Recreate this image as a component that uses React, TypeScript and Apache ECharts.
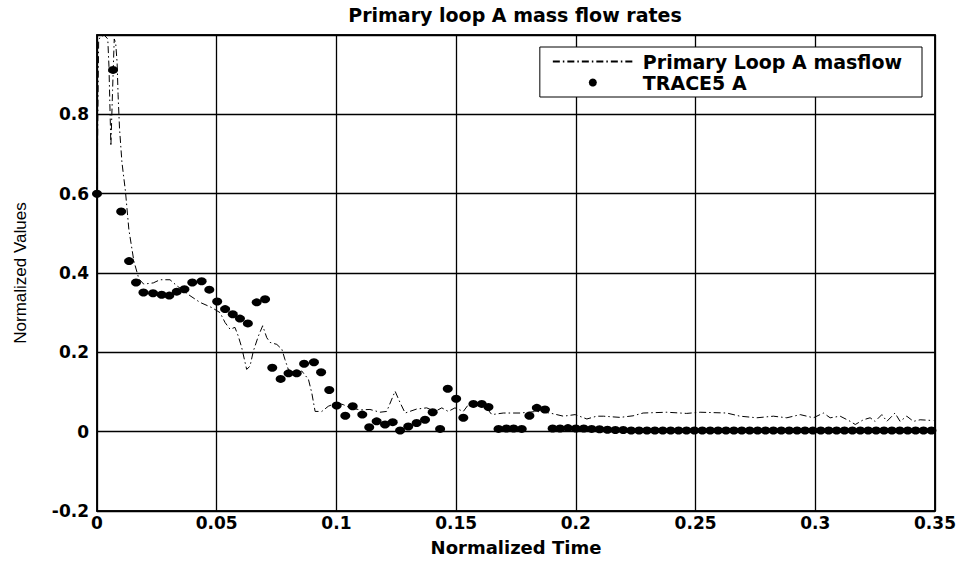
import React, { useEffect, useRef } from "react";
import * as echarts from "echarts";

const titleText = "Primary loop A mass flow rates";
const xName = "Normalized Time";
const yName = "Normalized Values";
const lineName = "Primary Loop A masflow";
const dotName = "TRACE5 A";

const xTicks = [0, 0.05, 0.1, 0.15, 0.2, 0.25, 0.3, 0.35];
const yTicks = [-0.2, 0, 0.2, 0.4, 0.6, 0.8, 1.0];

const lineTimes = [
  0, 0.0007, 0.003, 0.0045, 0.005, 0.0058, 0.0065, 0.0072, 0.0078, 0.0084, 0.0088, 0.0094,
  0.0104, 0.0119, 0.0133, 0.0154, 0.0175, 0.0195, 0.0235, 0.0263, 0.0305, 0.0333, 0.0388,
  0.043, 0.0479, 0.0514, 0.0535, 0.0556, 0.0576, 0.059, 0.0604, 0.0625, 0.0639, 0.0653,
  0.0674, 0.0692, 0.0709, 0.0723, 0.0751, 0.0772, 0.0785, 0.0799, 0.0827, 0.0855, 0.0883,
  0.0897, 0.0911, 0.0939, 0.0966, 0.1001, 0.1029, 0.1057, 0.11, 0.114, 0.1182, 0.121,
  0.1245, 0.1266, 0.1287, 0.1335, 0.1377, 0.1412, 0.144, 0.1467, 0.1495, 0.153, 0.1551,
  0.1572, 0.1621, 0.1649, 0.1697, 0.1767, 0.1837, 0.1892, 0.1948, 0.1997, 0.2046, 0.2087,
  0.2115, 0.2185, 0.2239, 0.2281, 0.238, 0.2463, 0.2519, 0.263, 0.2686, 0.2756, 0.2825,
  0.2881, 0.2937, 0.2992, 0.3034, 0.3062, 0.3104, 0.3146, 0.3167, 0.3201, 0.3229, 0.325,
  0.3278, 0.3299, 0.3333, 0.3354, 0.3382, 0.341, 0.3438, 0.3493,
];
const lineValues = [
  0.6, 0.99, 1.0, 0.99, 0.92, 0.72, 0.86, 0.99, 0.98, 0.93, 0.85, 0.765,
  0.68, 0.605, 0.51, 0.43, 0.385, 0.372, 0.375, 0.383, 0.383, 0.368, 0.343,
  0.326, 0.313, 0.3, 0.275, 0.258, 0.263, 0.241, 0.213, 0.157, 0.165, 0.203,
  0.241, 0.267, 0.237, 0.225, 0.22, 0.208, 0.182, 0.157, 0.144, 0.153, 0.132,
  0.098, 0.051, 0.051, 0.064, 0.073, 0.068, 0.06, 0.055, 0.056, 0.049, 0.051,
  0.102, 0.073, 0.047, 0.057, 0.06, 0.051, 0.06, 0.051, 0.06, 0.051, 0.068,
  0.073, 0.064, 0.043, 0.047, 0.047, 0.051, 0.047, 0.039, 0.043, 0.032, 0.039,
  0.039, 0.036, 0.04, 0.047, 0.049, 0.046, 0.049, 0.047, 0.039, 0.035, 0.039,
  0.035, 0.043, 0.035, 0.047, 0.035, 0.039, 0.026, 0.018, 0.03, 0.035, 0.026,
  0.043, 0.026, 0.047, 0.026, 0.039, 0.026, 0.03, 0.028,
];

const dotTimes = [
  0, 0.0067, 0.0101, 0.0134, 0.0163, 0.0194, 0.0234, 0.027, 0.0302, 0.0333, 0.0365, 0.0398,
  0.0437, 0.0469, 0.0502, 0.0535, 0.0567, 0.0597, 0.063, 0.0667, 0.0702, 0.0732, 0.0767,
  0.08, 0.0834, 0.0865, 0.0906, 0.0936, 0.097, 0.1001, 0.1037, 0.1068, 0.1108, 0.1137,
  0.1168, 0.1203, 0.1235, 0.1266, 0.13, 0.1335, 0.137, 0.1402, 0.1433, 0.1465, 0.15,
  0.153, 0.1572, 0.1607, 0.1635, 0.1677, 0.171, 0.174, 0.1774, 0.1806, 0.1837, 0.1871,
  0.1903, 0.1934, 0.1967, 0.2, 0.2033, 0.2066, 0.2099, 0.2132, 0.2165, 0.2198, 0.2231,
  0.2264, 0.2297, 0.233, 0.2363, 0.2396, 0.2429, 0.2462, 0.2495, 0.2528, 0.2561, 0.2594,
  0.2627, 0.266, 0.2693, 0.2726, 0.2759, 0.2792, 0.2825, 0.2858, 0.2891, 0.2924, 0.2957,
  0.299, 0.3023, 0.3056, 0.3089, 0.3122, 0.3155, 0.3188, 0.3221, 0.3254, 0.3287, 0.332,
  0.3353, 0.3386, 0.3419, 0.3452, 0.3485,
];
const dotValues = [
  0.6, 0.912, 0.555, 0.43, 0.376, 0.351, 0.349, 0.345, 0.343, 0.353, 0.359, 0.376,
  0.379, 0.358, 0.328, 0.309, 0.296, 0.285, 0.273, 0.326, 0.334, 0.161, 0.133,
  0.147, 0.147, 0.171, 0.175, 0.15, 0.105, 0.066, 0.04, 0.064, 0.043, 0.011,
  0.026, 0.018, 0.024, 0.003, 0.013, 0.022, 0.03, 0.049, 0.007, 0.108, 0.083,
  0.035, 0.07, 0.07, 0.062, 0.007, 0.008, 0.008, 0.007, 0.04, 0.06, 0.056,
  0.008, 0.008, 0.009, 0.008, 0.008, 0.007, 0.006, 0.005, 0.004, 0.004, 0.003,
  0.003, 0.003, 0.003, 0.003, 0.003, 0.003, 0.003, 0.003, 0.003, 0.003, 0.003,
  0.003, 0.003, 0.003, 0.003, 0.003, 0.003, 0.003, 0.003, 0.003, 0.003, 0.003,
  0.003, 0.003, 0.003, 0.003, 0.003, 0.003, 0.003, 0.003, 0.003, 0.003, 0.003,
  0.003, 0.003, 0.003, 0.003, 0.003,
];

const wideFont = "DejaVu Sans";

export default function App() {
  const ref = useRef<HTMLDivElement>(null);
  useEffect(() => {
    if (!ref.current) return;
    const chart = echarts.init(ref.current, null, { renderer: "svg" });
    const lineData = lineTimes.map((t, i) => [t, lineValues[i]]);
    const dotData = dotTimes.map((t, i) => [t, dotValues[i]]);
    const tickLabel = {
      fontFamily: wideFont,
      fontWeight: "bold" as const,
      fontSize: 17,
      color: "#000",
    };
    const axisLineStyle = { color: "#000", width: 1.5 };
    chart.setOption({
      animation: false,
      backgroundColor: "#fff",
      title: {
        text: titleText,
        left: 510,
        top: 0,
        textAlign: "center",
        textStyle: { fontFamily: wideFont, fontWeight: "bold", fontSize: 19, color: "#000" },
      },
      legend: {
        orient: "vertical",
        right: 44,
        top: 47,
        data: [
          { name: lineName, itemStyle: { opacity: 0 } },
          { name: dotName, itemStyle: { opacity: 1 } },
        ],
        itemWidth: 80,
        itemHeight: 8,
        itemGap: 2,
        padding: [5, 20, 5, 12],
        borderColor: "#000",
        borderWidth: 1,
        backgroundColor: "#fff",
        textStyle: {
          fontFamily: wideFont,
          fontWeight: "bold",
          fontSize: 19,
          color: "#000",
          padding: [0, 0, 0, 5],
        },
      },
      grid: {
        left: 97,
        right: 31,
        top: 35,
        bottom: 55,
        show: true,
        borderColor: "#000",
        borderWidth: 1.5,
      },
      xAxis: [
        {
          type: "value",
          position: "bottom",
          min: xTicks[0],
          max: xTicks[xTicks.length - 1],
          interval: 0.05,
          name: xName,
          nameLocation: "middle",
          nameGap: 27,
          nameTextStyle: { fontFamily: wideFont, fontWeight: "bold", fontSize: 18, color: "#000" },
          axisLine: { show: true, onZero: false, lineStyle: axisLineStyle },
          axisTick: { show: true, inside: true, length: 5, lineStyle: { color: "#000" } },
          axisLabel: {
            ...tickLabel,
            margin: 3,
            formatter: (v: number) => String(+v.toFixed(2)),
          },
          splitLine: { show: true, lineStyle: { color: "#000", width: 1.3 } },
        },
        {
          type: "value",
          position: "top",
          min: xTicks[0],
          max: xTicks[xTicks.length - 1],
          interval: 0.05,
          axisLine: { show: true, onZero: false, lineStyle: axisLineStyle },
          axisTick: { show: true, inside: true, length: 5, lineStyle: { color: "#000" } },
          axisLabel: { show: false },
          splitLine: { show: false },
        },
      ],
      yAxis: [
        {
          type: "value",
          position: "left",
          min: yTicks[0],
          max: yTicks[yTicks.length - 1],
          interval: 0.2,
          name: yName,
          nameLocation: "middle",
          nameGap: 68,
          nameTextStyle: { fontFamily: "Liberation Sans", fontSize: 17, color: "#000" },
          axisLine: { show: true, onZero: false, lineStyle: axisLineStyle },
          axisTick: { show: true, inside: true, length: 5, lineStyle: { color: "#000" } },
          axisLabel: {
            ...tickLabel,
            margin: 8,
            formatter: (v: number) => (v > 0.99 ? "" : String(+v.toFixed(1))),
          },
          splitLine: { show: true, lineStyle: { color: "#000", width: 1.3 } },
        },
        {
          type: "value",
          position: "right",
          min: yTicks[0],
          max: yTicks[yTicks.length - 1],
          interval: 0.2,
          axisLine: { show: true, onZero: false, lineStyle: axisLineStyle },
          axisTick: { show: true, inside: true, length: 5, lineStyle: { color: "#000" } },
          axisLabel: { show: false },
          splitLine: { show: false },
        },
      ],
      series: [
        {
          name: lineName,
          type: "line",
          xAxisIndex: 0,
          yAxisIndex: 0,
          data: lineData,
          symbol: "none",
          lineStyle: { color: "#000", width: 1, type: [7, 3, 1.5, 3] },
          itemStyle: { color: "#000" },
          clip: true,
          z: 2,
        },
        {
          name: dotName,
          type: "scatter",
          xAxisIndex: 0,
          yAxisIndex: 0,
          data: dotData,
          symbol: "circle",
          symbolSize: [10, 8],
          itemStyle: { color: "#000", opacity: 1 },
          z: 3,
        },
      ],
    });
    return () => chart.dispose();
  }, []);
  return (
    <div
      ref={ref}
      style={{ position: "fixed", left: 0, top: 0, width: 966, height: 566, background: "#fff" }}
    />
  );
}
